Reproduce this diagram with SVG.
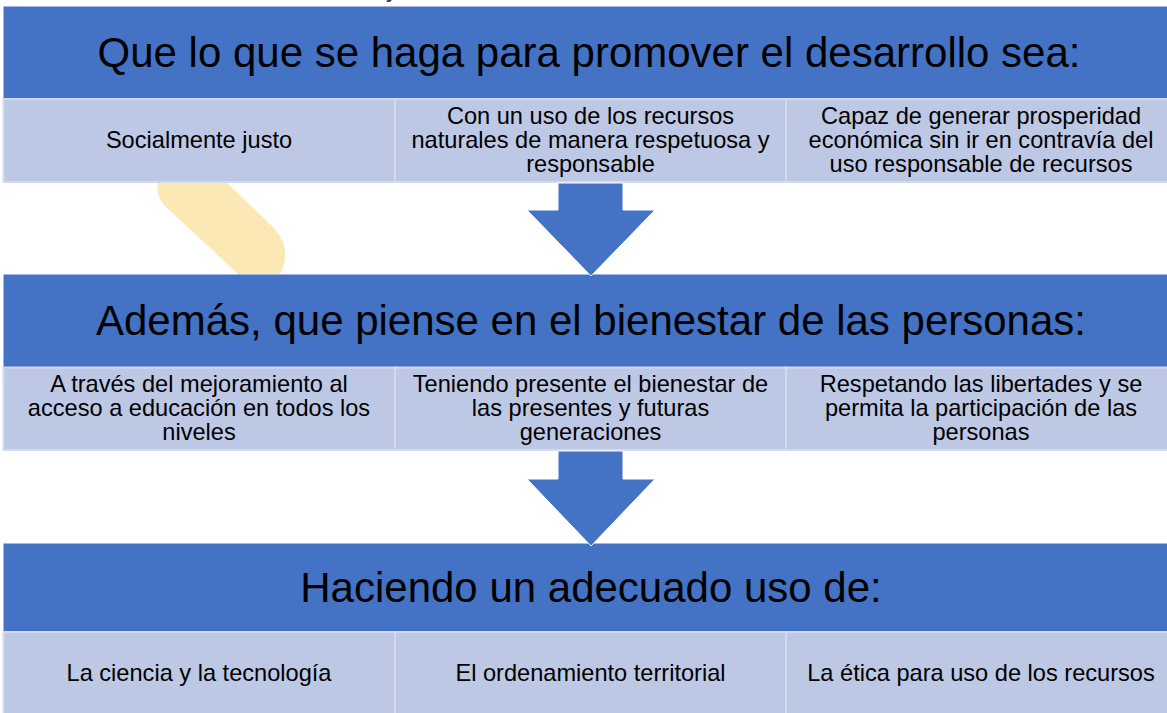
<svg xmlns="http://www.w3.org/2000/svg" width="1167" height="713" viewBox="0 0 1167 713">
<defs>
<style>
.band{fill:#4472C4;}
.cell{fill:#BDC8E4;stroke:#D3DAEE;stroke-width:2;}
.title{font-family:"Liberation Sans",Arial,sans-serif;font-size:42px;fill:#000;text-anchor:middle;}
.txt{font-family:"Liberation Sans",Arial,sans-serif;font-size:23.6px;fill:#000;text-anchor:middle;}
.arrow{fill:#4472C4;stroke:#FFFFFF;stroke-width:1;}
</style>
</defs>
<rect width="1167" height="713" fill="#FFFFFF"/>
<text x="386" y="-3" font-family="Liberation Sans, Arial, sans-serif" font-size="24" fill="#1F3864">y</text>
<g id="decoration">
<path d="M158,181 Q155,197 166,207 L238,274 L280,274 Q293,250 274,228 L225,181 Z" fill="#FCE8B4"/>
</g>
<g id="band1">
<rect class="band" x="3.5" y="6.5" width="1164" height="92"/>
<text class="title" x="589" y="67">Que lo que se haga para promover el desarrollo sea:</text>
</g>
<g id="row1-cell1">
<rect class="cell" x="3.5" y="99" width="391.5" height="83"/>
<text class="txt" x="199" y="148">Socialmente justo</text>
</g>
<g id="row1-cell2">
<rect class="cell" x="395" y="99" width="391" height="83"/>
<text class="txt" x="590.5" y="124">Con un uso de los recursos</text>
<text class="txt" x="590.5" y="148">naturales de manera respetuosa y</text>
<text class="txt" x="590.5" y="172">responsable</text>
</g>
<g id="row1-cell3">
<rect class="cell" x="786" y="99" width="383" height="83"/>
<text class="txt" x="981" y="124">Capaz de generar prosperidad</text>
<text class="txt" x="981" y="148">económica sin ir en contravía del</text>
<text class="txt" x="981" y="172">uso responsable de recursos</text>
</g>
<g id="band2">
<rect class="band" x="3.5" y="274.5" width="1164" height="93"/>
<text class="title" x="591" y="335">Además, que piense en el bienestar de las personas:</text>
</g>
<g id="row2-cell1">
<rect class="cell" x="3.5" y="367.5" width="391.5" height="82.5"/>
<text class="txt" x="199" y="392">A través del mejoramiento al</text>
<text class="txt" x="199" y="416">acceso a educación en todos los</text>
<text class="txt" x="199" y="440">niveles</text>
</g>
<g id="row2-cell2">
<rect class="cell" x="395" y="367.5" width="391" height="82.5"/>
<text class="txt" x="590.5" y="392">Teniendo presente el bienestar de</text>
<text class="txt" x="590.5" y="416">las presentes y futuras</text>
<text class="txt" x="590.5" y="440">generaciones</text>
</g>
<g id="row2-cell3">
<rect class="cell" x="786" y="367.5" width="383" height="82.5"/>
<text class="txt" x="981" y="392">Respetando las libertades y se</text>
<text class="txt" x="981" y="416">permita la participación de las</text>
<text class="txt" x="981" y="440">personas</text>
</g>
<g id="band3">
<rect class="band" x="3.5" y="543.5" width="1164" height="88.5"/>
<text class="title" x="591" y="602">Haciendo un adecuado uso de:</text>
</g>
<g id="row3-cell1">
<rect class="cell" x="3.5" y="632" width="391.5" height="83"/>
<text class="txt" x="199" y="681">La ciencia y la tecnología</text>
</g>
<g id="row3-cell2">
<rect class="cell" x="395" y="632" width="391" height="83"/>
<text class="txt" x="590.5" y="681">El ordenamiento territorial</text>
</g>
<g id="row3-cell3">
<rect class="cell" x="786" y="632" width="383" height="83"/>
<text class="txt" x="981" y="681">La ética para uso de los recursos</text>
</g>
<g id="connectors">
<polygon class="arrow" points="558,183 623,183 623,210 655,210 591,276 527,210 558,210"/>
<polygon class="arrow" points="558,451 623,451 623,479 655,479 591,546 527,479 558,479"/>
</g>
</svg>
